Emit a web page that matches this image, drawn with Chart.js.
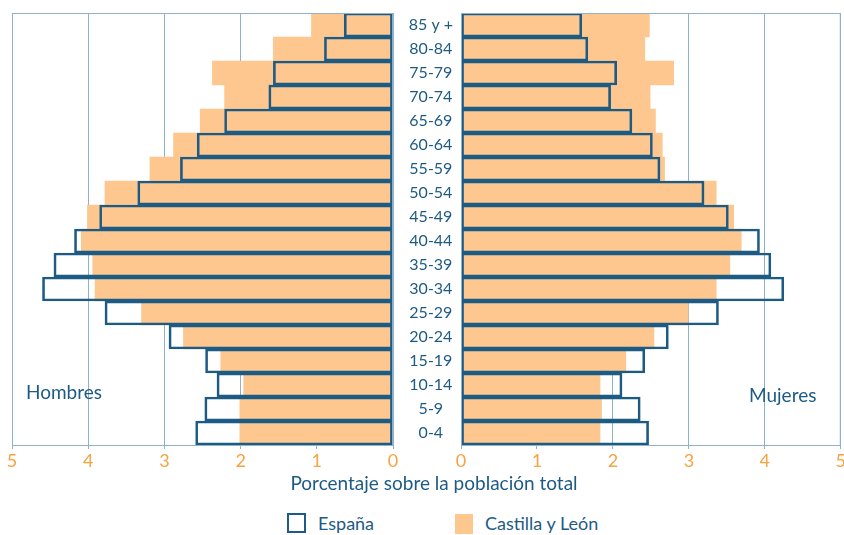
<!DOCTYPE html>
<html lang="es">
<head>
    <meta charset="UTF-8">
    <script src="https://cdn.jsdelivr.net/npm/chart.js"></script>
    <title>Pirámide de población</title>
    <style>
        body { margin: 0; width: 844px; height: 535px; overflow: hidden; background: #fff; font-family: Lato, sans-serif; color: #1d5b85; }
        .box { position: absolute; }
        #left { left: 0; top: 0; width: 400px; height: 480px; }
        #right { left: 395px; top: 0; width: 452px; height: 480px; }
        .lab { position: absolute; font-size: 19px; }
        #titulo { position: absolute; left: 0; width: 868px; top: 471px; text-align: center; font-size: 19px; }
        .leg { position: absolute; top: 512px; font-size: 18px; line-height: 22px; }
        .sw { display: inline-block; width: 15px; height: 16px; vertical-align: -3px; margin-right: 12px; }
    </style>
</head>
<body>
    <div class="box" id="left"><canvas id="hombresChart"></canvas></div>
    <div class="box" id="right"><canvas id="mujeresChart"></canvas></div>
    <div class="lab" style="left:26px; top:380px;">Hombres</div>
    <div class="lab" style="left:749px; top:383px;">Mujeres</div>
    <div id="titulo">Porcentaje sobre la población total</div>
    <div class="leg" style="left:287px;"><span class="sw" style="border:2.5px solid #1d5b85;"></span>España</div>
    <div class="leg" style="left:455px;"><span class="sw" style="background:#fdc78f; width:18px; height:20px; margin-right:12px; vertical-align:-4px;"></span>Castilla y León</div>

    <script>
        // grupos de edad, de abajo (0-4) hacia arriba (85 y +)
        const edades = ['0-4', '5-9', '10-14', '15-19', '20-24', '25-29', '30-34', '35-39', '40-44',
                        '45-49', '50-54', '55-59', '60-64', '65-69', '70-74', '75-79', '80-84', '85 y +']
        const hombresEspana = [2.59, 2.47, 2.31, 2.46, 2.94, 3.78, 4.60, 4.45, 4.18,
                               3.85, 3.35, 2.79, 2.57, 2.21, 1.63, 1.57, 0.90, 0.64]
        const hombresCyL = [2.01, 2.01, 1.96, 2.26, 2.75, 3.30, 3.91, 3.94, 4.09,
                            4.01, 3.78, 3.19, 2.88, 2.53, 2.21, 2.37, 1.57, 1.07]
        const mujeresEspana = [2.47, 2.36, 2.12, 2.42, 2.73, 3.39, 4.25, 4.08, 3.93,
                               3.52, 3.20, 2.62, 2.52, 2.25, 1.97, 2.05, 1.67, 1.59]
        const mujeresCyL = [1.83, 1.85, 1.83, 2.17, 2.54, 2.99, 3.36, 3.54, 3.69,
                            3.59, 3.36, 2.68, 2.65, 2.56, 2.49, 2.80, 2.42, 2.48]
        const ticksX = [0, 1, 2, 3, 4, 5]

        const azul = '#1d5b85'
        const naranja = '#fdc78f'
        const rejilla = '#8fb2cc'

        // marco del area de dibujo
        const marco = {
            id: 'marco',
            afterDraw(chart) {
                const a = chart.chartArea, c = chart.ctx
                c.save()
                c.strokeStyle = rejilla
                c.lineWidth = 1
                c.strokeRect(a.left + 0.5, a.top + 0.5, a.right - a.left - 1, a.bottom - a.top)
                c.restore()
            }
        }

        function crear(id, espana, cyl, izquierda) {
            return new Chart(document.getElementById(id), {
                type: 'bar',
                data: {
                    labels: edades,
                    datasets: [
                        {
                            label: 'España',
                            data: espana,
                            backgroundColor: 'rgba(0,0,0,0)',
                            borderColor: azul,
                            borderWidth: 2,
                            borderSkipped: false,
                            grouped: false,
                            barPercentage: 1,
                            categoryPercentage: 1
                        },
                        {
                            label: 'Castilla y León',
                            data: cyl,
                            backgroundColor: naranja,
                            borderWidth: 0,
                            grouped: false,
                            barPercentage: 1,
                            categoryPercentage: 1
                        }
                    ]
                },
                options: {
                    indexAxis: 'y',
                    responsive: true,
                    maintainAspectRatio: false,
                    animation: false,
                    layout: { padding: izquierda ? { left: 12, right: 7, top: 13 } : { left: 0, right: 0, top: 13 } },
                    plugins: { legend: { display: false }, tooltip: { enabled: false } },
                    scales: {
                        x: {
                            min: 0,
                            max: 5,
                            reverse: izquierda,
                            afterBuildTicks: s => { s.ticks = ticksX.map(v => ({ value: v })) },
                            afterFit: s => { s.height = 35 },
                            grid: { color: rejilla, tickLength: 4 },
                            border: { color: rejilla },
                            ticks: { color: '#f6a341', font: { family: 'Lato', size: 18 }, padding: 1 }
                        },
                        y: {
                            reverse: true,
                            display: !izquierda,
                            afterFit: s => { s.width = izquierda ? 0 : 66 },
                            grid: { display: false },
                            border: { display: false },
                            ticks: { color: azul, font: { family: 'Lato', size: 16 }, crossAlign: 'center', padding: 0 }
                        }
                    }
                },
                plugins: [marco]
            })
        }

        crear('hombresChart', hombresEspana, hombresCyL, true)
        crear('mujeresChart', mujeresEspana, mujeresCyL, false)
    </script>
</body>
</html>
